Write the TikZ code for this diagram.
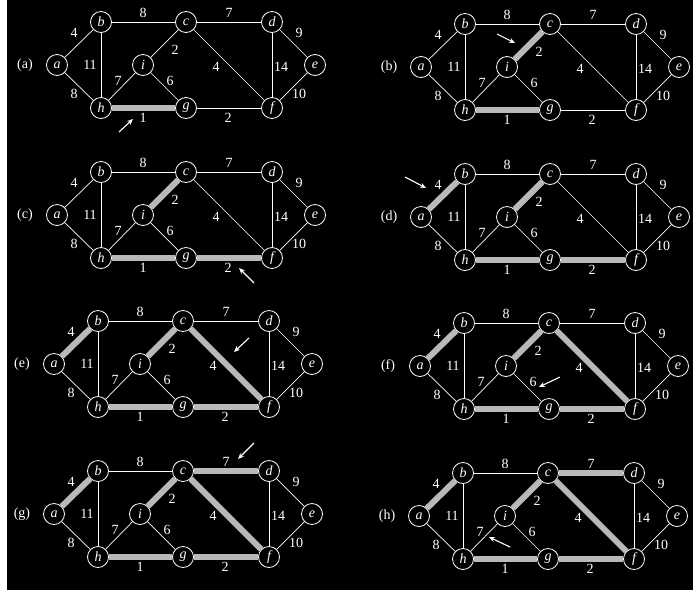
\documentclass[tikz,border=0pt]{standalone}
\usepackage{fontspec}
\setmainfont{Liberation Serif}
\usetikzlibrary{arrows.meta}
\tikzset{
  vtx/.style={circle,draw=white,fill=black,line width=0.8pt,minimum size=21pt,inner sep=0pt,text=white,font=\fontsize{14}{14}\selectfont\itshape},
  edge/.style={draw=white,line width=0.7pt},
  hl/.style={draw=gray!55!white,line width=6pt},
  wl/.style={text=white,inner sep=0pt,font=\fontsize{14}{14}\selectfont},
  plab/.style={text=white,inner sep=0pt,font=\fontsize{14}{14}\selectfont},
  pointer/.style={draw=white,line width=1.1pt,-{Stealth[length=6pt,width=5pt]}}
}
\newcommand\kgraph[7]{%
\begin{scope}[shift={(#2,#3)}]
\node[vtx] (#1a) at (0,0) {a};
\node[vtx] (#1b) at (44,-43) {b};
\node[vtx] (#1c) at (129,-43) {c};
\node[vtx] (#1d) at (215,-43) {d};
\node[vtx] (#1e) at (258,0) {e};
\node[vtx] (#1f) at (215,43) {f};
\node[vtx] (#1g) at (129,43) {g};
\node[vtx] (#1h) at (44,43) {h};
\node[vtx] (#1i) at (86,0) {i};
\node[plab] (#1lab) at (-32,0) {(#4)};
\foreach \u/\v in {a/b,a/h,b/c,b/h,c/d,c/i,c/f,d/e,d/f,e/f,h/i,i/g,h/g,g/f}
  \draw[edge] (#1\u) -- (#1\v);
\foreach \u/\v in {#5}
  \draw[hl] (#1\u) -- (#1\v);
\node[wl] (#1wab) at (17,-32) {4};
\node[wl] (#1wbc) at (86,-52) {8};
\node[wl] (#1wcd) at (172,-52) {7};
\node[wl] (#1wde) at (242,-32) {9};
\node[wl] (#1wbh) at (33,0) {11};
\node[wl] (#1wci) at (118,-15) {2};
\node[wl] (#1wcf) at (159,2) {4};
\node[wl] (#1wdf) at (224,2) {14};
\node[wl] (#1whi) at (61,16) {7};
\node[wl] (#1wig) at (113,16) {6};
\node[wl] (#1wah) at (17,29) {8};
\node[wl] (#1wef) at (242,29) {10};
\node[wl] (#1whg) at (86,53) {1};
\node[wl] (#1wgf) at (171,53) {2};
\coordinate (#1tail) at (#6);
\coordinate (#1head) at (#7);
\draw[pointer] (#1tail) -- (#1head);
\end{scope}}
\begin{document}
\begin{tikzpicture}[x=1pt,y=-1pt]
\useasboundingbox (0,0) rectangle (693,590);
\fill[white] (0,0) rectangle (7,590);
\fill[black] (7,0) rectangle (693,590);
\kgraph{A}{57}{65}{a}{h/g}{62,67}{76,54}
\kgraph{B}{421}{67}{b}{h/g,i/c}{76,-33}{94,-24}
\kgraph{C}{57}{215}{c}{h/g,i/c,g/f}{197,68}{182,53}
\kgraph{D}{421}{217}{d}{h/g,i/c,g/f,a/b}{-16,-40}{5,-29}
\kgraph{E}{54}{364}{e}{h/g,i/c,g/f,a/b,c/f}{195,-26}{180,-12}
\kgraph{F}{420}{366}{f}{h/g,i/c,g/f,a/b,c/f}{140,11}{119,21}
\kgraph{G}{54}{514}{g}{h/g,i/c,g/f,a/b,c/f,c/d}{200,-71}{184,-55}
\kgraph{H}{419}{516}{h}{h/g,i/c,g/f,a/b,c/f,c/d}{91,31}{70,21}
\end{tikzpicture}
\end{document}
